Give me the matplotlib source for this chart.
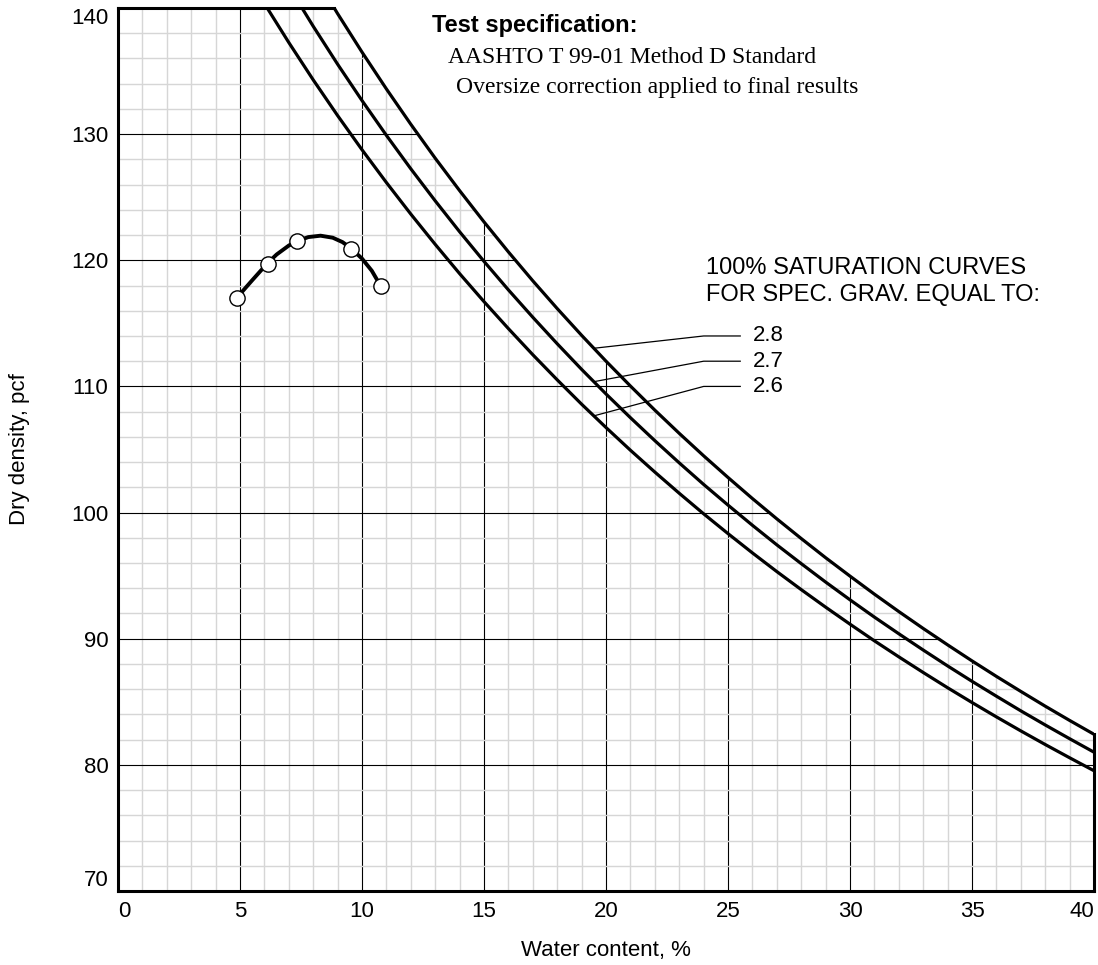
import numpy as np
import matplotlib
matplotlib.use('Agg')
import matplotlib.pyplot as plt

plt.rcParams['font.family'] = ['Liberation Sans', 'DejaVu Sans']

# water content (%) and 100% saturation dry density (pcf) for each spec. gravity
w_pct = [0] + list(range(5, 41))
zav_26 = [162.24, 143.58, 140.35, 137.26, 134.30, 131.47, 128.76, 126.16, 123.66, 121.26,
          118.94, 116.72, 114.58, 112.51, 110.52, 108.59, 106.74, 104.94, 103.21, 101.53,
          99.90, 98.33, 96.80, 95.32, 93.89, 92.50, 91.15, 89.83, 88.56, 87.32,
          86.11, 84.94, 83.80, 82.69, 81.61, 80.56, 79.53]
zav_27 = [168.48, 148.44, 144.99, 141.70, 138.55, 135.54, 132.66, 129.90, 127.25, 124.71,
          122.26, 119.91, 117.65, 115.48, 113.38, 111.35, 109.40, 107.52, 105.70, 103.94,
          102.23, 100.59, 98.99, 97.44, 95.95, 94.49, 93.08, 91.71, 90.39, 89.10,
          87.84, 86.62, 85.44, 84.28, 83.16, 82.07, 81.00]
zav_28 = [174.72, 153.26, 149.59, 146.09, 142.75, 139.55, 136.50, 133.58, 130.78, 128.09,
          125.52, 123.04, 120.66, 118.37, 116.17, 114.05, 112.00, 110.03, 108.12, 106.28,
          104.50, 102.78, 101.11, 99.50, 97.94, 96.42, 94.96, 93.53, 92.15, 90.81,
          89.51, 88.24, 87.01, 85.82, 84.65, 83.52, 82.42]
gs_labels = ['2.8', '2.7', '2.6']

# test points
test_w = [4.86, 6.13, 7.35, 9.55, 10.77]
test_d = [117.01, 119.74, 121.51, 120.93, 117.94]

# compaction curve read along its length
fit_w = [4.86, 5.5, 6.13, 6.5, 7.0, 7.35, 7.8, 8.3, 8.8, 9.2, 9.55, 10.0, 10.4, 10.77]
fit_d = [117.01, 118.42, 119.78, 120.46, 121.17, 121.53, 121.84, 121.95, 121.79, 121.44,
         120.95, 120.13, 119.17, 117.94]

fig = plt.figure(figsize=(10.98, 9.65), dpi=100)
ax = fig.add_axes([0.1075, 0.0767, 0.8889, 0.915])
ax.set_xlim(0, 40)
ax.set_ylim(70, 140)

# grid
ax.set_axisbelow(True)
ax.set_xticks(range(0, 41, 5))
ax.set_yticks(range(70, 141, 10))
ax.set_xticks(range(0, 41, 1), minor=True)
ax.set_yticks(range(70, 141, 2), minor=True)
ax.grid(which='minor', color='#d6d6d6', lw=1.0)
ax.grid(which='major', color='black', lw=0.8)
ax.tick_params(which='both', length=0)
ax.tick_params(which='major', labelsize=16, pad=7)
xlabels = ax.get_xticklabels()
xlabels[0].set_ha('left')
xlabels[-1].set_ha('right')
ylabels = ax.get_yticklabels()
ylabels[0].set_va('bottom')
ylabels[-1].set_va('top')

# blank out grid above the 2.8 curve
ax.fill_between(w_pct, zav_28, max(zav_28), color='white', lw=0, zorder=1)

for d in (zav_26, zav_27, zav_28):
    ax.plot(w_pct, d, color='black', lw=2.3, zorder=3)

# spines
for s in ('left', 'bottom', 'top', 'right'):
    ax.spines[s].set_linewidth(2.2)
w_top = np.interp(140, zav_28[::-1], w_pct[::-1])
ax.spines['top'].set_bounds(0, w_top)
ax.spines['right'].set_bounds(70, zav_28[-1])

# compaction curve and points
ax.plot(fit_w, fit_d, color='black', lw=2.8, zorder=4)
ax.plot(test_w, test_d, 'o', ms=11, mfc='white', mec='black', mew=1.0, zorder=5)

# saturation labels
ax.text(24.1, 118.9, '100% SATURATION CURVES', fontsize=17, va='baseline')
ax.text(24.1, 116.8, 'FOR SPEC. GRAV. EQUAL TO:', fontsize=17, va='baseline')
for lab, d, ly in zip(gs_labels, (zav_28, zav_27, zav_26), (114, 112, 110)):
    y0 = np.interp(19.5, w_pct, d)
    ax.plot([19.5, 24, 25.5], [y0, ly, ly], color='black', lw=0.9, zorder=4)
    ax.text(26.0, ly, lab, fontsize=16, va='center')

# test specification
ax.text(12.87, 138.12, 'Test specification:', fontsize=17, fontweight='bold', va='baseline')
ax.text(13.52, 135.63, 'AASHTO T 99-01 Method D Standard', fontsize=17,
        family='Liberation Serif', va='baseline')
ax.text(13.85, 133.25, 'Oversize correction applied to final results', fontsize=17,
        family='Liberation Serif', va='baseline')

ax.set_xlabel('Water content, %', fontsize=16)
ax.set_ylabel('Dry density, pcf', fontsize=16)
ax.xaxis.label.set_va('center')
ax.yaxis.label.set_va('center')
ax.xaxis.set_label_coords(0.5, -0.067)
ax.yaxis.set_label_coords(-0.101, 0.5)

fig.savefig('out.png', dpi=100)
